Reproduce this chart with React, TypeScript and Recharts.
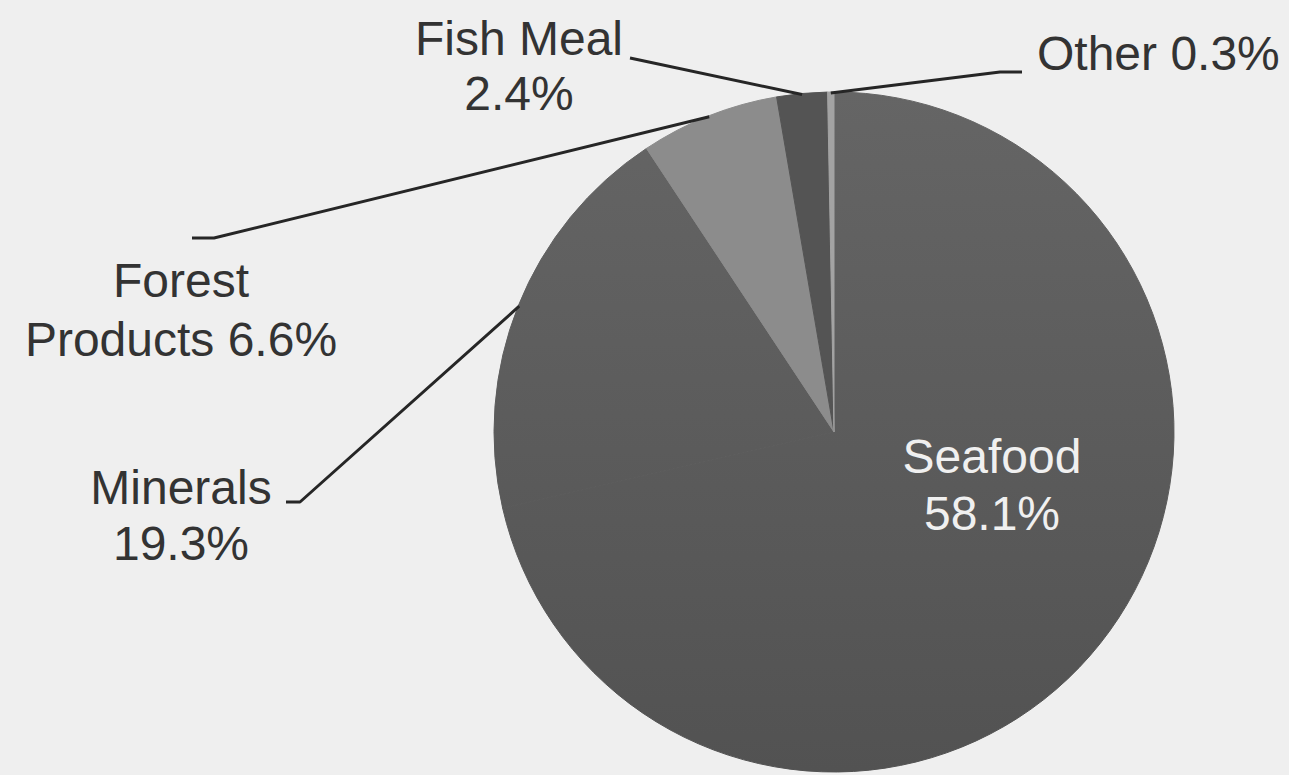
import { PieChart, Pie, Cell } from "recharts";

// categories, clockwise from 12 o'clock
const categories = ["Seafood", "Minerals", "Forest Products", "Fish Meal", "Other"];
// wedge sizes as drawn (the Seafood wedge is bigger than its printed 58.1%)
const sliceValues = [71.4, 19.3, 6.6, 2.4, 0.3];
const printedPercents = ["58.1%", "19.3%", "6.6%", "2.4%", "0.3%"];
const labelText = [
  ["Seafood", printedPercents[0]],
  ["Minerals", printedPercents[1]],
  ["Forest", "Products " + printedPercents[2]],
  ["Fish Meal", printedPercents[3]],
  ["Other " + printedPercents[4]],
];

const W = 1289;
const H = 775;
const CX = 834;
const CY = 432;
const R = 340;
const FONT = "'Liberation Sans', Arial, Helvetica, sans-serif";

const sliceFills = ["url(#bigGrey)", "url(#bigGrey)", "#8c8c8c", "#545454", "#a3a3a3"];

// label placement relative to the pie centre: text x, baselines, anchor, leader line (elbow, end)
const labelLayout = [
  { x: 158, ys: [41, 98], anchor: "middle", fill: "#f0f0f0", line: null },
  { x: -653, ys: [72, 128], anchor: "middle", fill: "#333", line: [[-534, 70], [-548, 70]] },
  { x: -653, ys: [-135, -76], anchor: "middle", fill: "#333", line: [[-620, -194], [-642, -194]] },
  { x: -315, ys: [-377, -322], anchor: "middle", fill: "#333", line: [[-204, -374]] },
  { x: 203, ys: [-362], anchor: "start", fill: "#333", line: [[166, -360], [188, -360]] },
];

const data = categories.map((name, i) => ({ name, value: sliceValues[i] }));

const RAD = Math.PI / 180;

const renderLabel = (props: any) => {
  const { cx, cy, midAngle, outerRadius, name } = props;
  const i = categories.indexOf(name);
  const lay = labelLayout[i];
  if (!lay) return null;
  const ax = cx + (outerRadius - 1) * Math.cos(-midAngle * RAD);
  const ay = cy + (outerRadius - 1) * Math.sin(-midAngle * RAD);
  const pts = lay.line
    ? [[ax, ay], ...lay.line.map(([dx, dy]) => [cx + dx, cy + dy])]
    : null;
  return (
    <g>
      {pts && (
        <polyline
          points={pts.map((p) => p.join(",")).join(" ")}
          fill="none"
          stroke="#262626"
          strokeWidth={3}
          strokeLinejoin="round"
        />
      )}
      <text
        x={cx + lay.x}
        y={cy + lay.ys[0]}
        textAnchor={lay.anchor as any}
        fill={lay.fill}
        fontSize={48}
        fontFamily={FONT}
      >
        {labelText[i].map((t, k) => (
          <tspan key={k} x={cx + lay.x} y={cy + lay.ys[k]}>
            {t}
          </tspan>
        ))}
      </text>
    </g>
  );
};

export default function App() {
  return (
    <div
      style={{
        position: "fixed",
        left: 0,
        top: 0,
        width: W,
        height: H,
        background: "#efefef",
        overflow: "hidden",
      }}
    >
      <PieChart width={W} height={H} margin={{ top: 0, right: 0, bottom: 0, left: 0 }}>
        <defs>
          <linearGradient id="bigGrey" gradientUnits="userSpaceOnUse" x1={0} y1={CY - R} x2={0} y2={CY + R}>
            <stop offset="0%" stopColor="#656565" />
            <stop offset="100%" stopColor="#525252" />
          </linearGradient>
        </defs>
        <Pie
          data={data}
          dataKey="value"
          nameKey="name"
          cx={CX}
          cy={CY}
          outerRadius={R}
          startAngle={90}
          endAngle={-270}
          label={renderLabel}
          labelLine={false}
          isAnimationActive={false}
        >
          {data.map((d, i) => (
            <Cell key={d.name} fill={sliceFills[i]} stroke={sliceFills[i]} strokeWidth={1} />
          ))}
        </Pie>
      </PieChart>
    </div>
  );
}
